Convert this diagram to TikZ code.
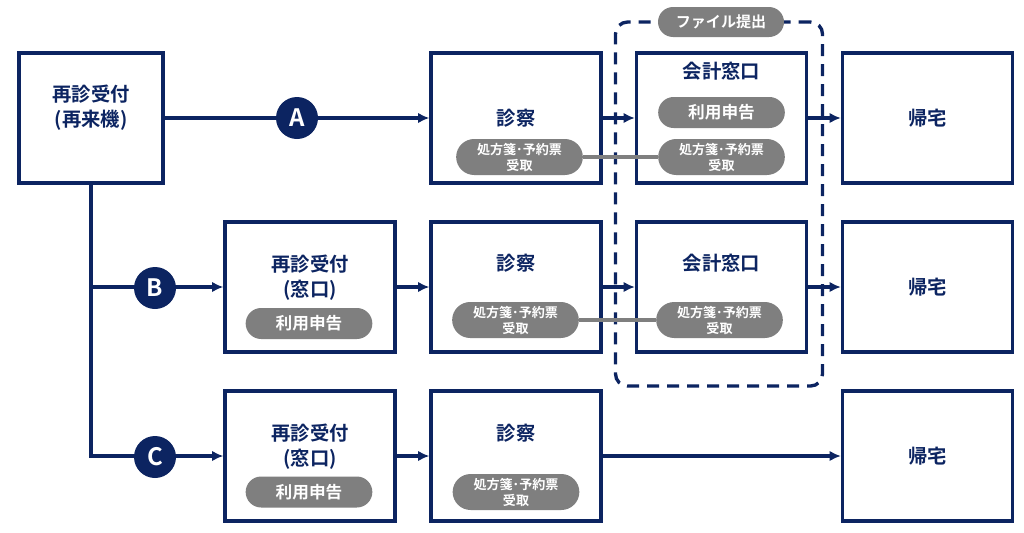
\documentclass[tikz,border=0pt]{standalone}
\usepackage{fontspec}
\setmainfont{Noto Sans CJK JP}[BoldFont={Noto Sans CJK JP Bold}]
\usetikzlibrary{arrows.meta,shapes.misc}
\definecolor{navy}{RGB}{12,36,97}
\definecolor{pillgray}{RGB}{127,127,127}
\begin{document}
\begin{tikzpicture}[x=0.75pt,y=-0.75pt,
  box/.style={draw=navy,line width=2.5pt,fill=white,inner sep=0pt,minimum width=127.5pt,minimum height=97.5pt},
  title/.style={text=navy,font=\bfseries\fontsize{14.5}{18.75}\selectfont,align=center,inner sep=0pt},
  pill/.style={rounded rectangle,fill=pillgray,text=white,inner sep=0pt,minimum width=95pt,minimum height=27pt,align=center,font=\bfseries\fontsize{9.8}{12}\selectfont},
  bigpill/.style={pill,minimum height=23.25pt,font=\bfseries\fontsize{12.5}{14}\selectfont},
  letter/.style={circle,fill=navy,text=white,inner sep=0pt,minimum size=31.5pt,font=\bfseries\fontsize{18}{18}\selectfont},
  arr/.style={draw=navy,line width=2.6pt,-{Latex[length=8.5pt,width=8pt]}},
  link/.style={draw=pillgray,line width=2.4pt},
  group/.style={draw=navy,line width=2.5pt,dash pattern=on 9pt off 6pt,rounded corners=9pt}
]
\useasboundingbox (0,0) rectangle (1024,532);
% boxes
\node[box,minimum width=108pt] (r0) at (91,118) {};
\node[box] (d1) at (516,118) {};
\node[box] (k1) at (721.5,118) {};
\node[box] (h1) at (927.5,118) {};
\node[box] (r2) at (310,287) {};
\node[box] (d2) at (516,287) {};
\node[box] (k2) at (721.5,287) {};
\node[box] (h2) at (927.5,287) {};
\node[box] (r3) at (310,456) {};
\node[box] (d3) at (516,456) {};
\node[box] (h3) at (927.5,456) {};
% group
\node[group,minimum width=155.25pt,minimum height=273pt,inner sep=0pt] (grp) at (719,204) {};
% arrows
\draw[arr] (r0.east) -- (d1.west);
\draw[arr] (r0.south) |- (r3.west);
\coordinate (j2) at (r0.south |- r2.west);
\draw[arr] (j2) -- (r2.west);
\draw[arr] (d1.east) -- (k1.west);
\draw[arr] (k1.east) -- (h1.west);
\draw[arr] (r2.east) -- (d2.west);
\draw[arr] (d2.east) -- (k2.west);
\draw[arr] (k2.east) -- (h2.west);
\draw[arr] (r3.east) -- (d3.west);
\draw[arr] (d3.east) -- (h3.west);
% letters
\node[letter] (la) at (297,118) {A};
\node[letter] (lb) at (155,288) {B};
\node[letter] (lc) at (155,457) {C};
% pills
\node[pill] (pd1) at (519.5,157) {処方箋･予約票\\受取};
\node[bigpill] (pk1a) at (721.5,112.5) {利用申告};
\node[pill] (pk1b) at (721.5,157) {処方箋･予約票\\受取};
\node[bigpill] (pr2) at (309,323.5) {利用申告};
\node[pill] (pd2) at (515.5,320) {処方箋･予約票\\受取};
\node[pill] (pk2) at (719.5,320) {処方箋･予約票\\受取};
\node[bigpill] (pr3) at (309,492) {利用申告};
\node[pill] (pd3) at (516,492) {処方箋･予約票\\受取};
\draw[link] (pd1.east) -- (pk1b.west);
\draw[link] (pd2.east) -- (pk2.west);
\node[pill,minimum width=94.5pt,minimum height=22.5pt,font=\bfseries\fontsize{11.3}{12}\selectfont] (file) at (721,22) {ファイル提出};
% titles
\node[title] (t0) at (91,108) {再診受付\\(再来機)};
\node[title] (td1) at (516,118) {診察};
\node[title] (tk1) at (721.5,71) {会計窓口};
\node[title] (th1) at (927.5,118) {帰宅};
\node[title] (tr2) at (310,277.5) {再診受付\\(窓口)};
\node[title] (td2) at (516,263) {診察};
\node[title] (tk2) at (721.5,263) {会計窓口};
\node[title] (th2) at (927.5,287) {帰宅};
\node[title] (tr3) at (310,446.5) {再診受付\\(窓口)};
\node[title] (td3) at (516,433) {診察};
\node[title] (th3) at (927.5,456) {帰宅};
\end{tikzpicture}
\end{document}
